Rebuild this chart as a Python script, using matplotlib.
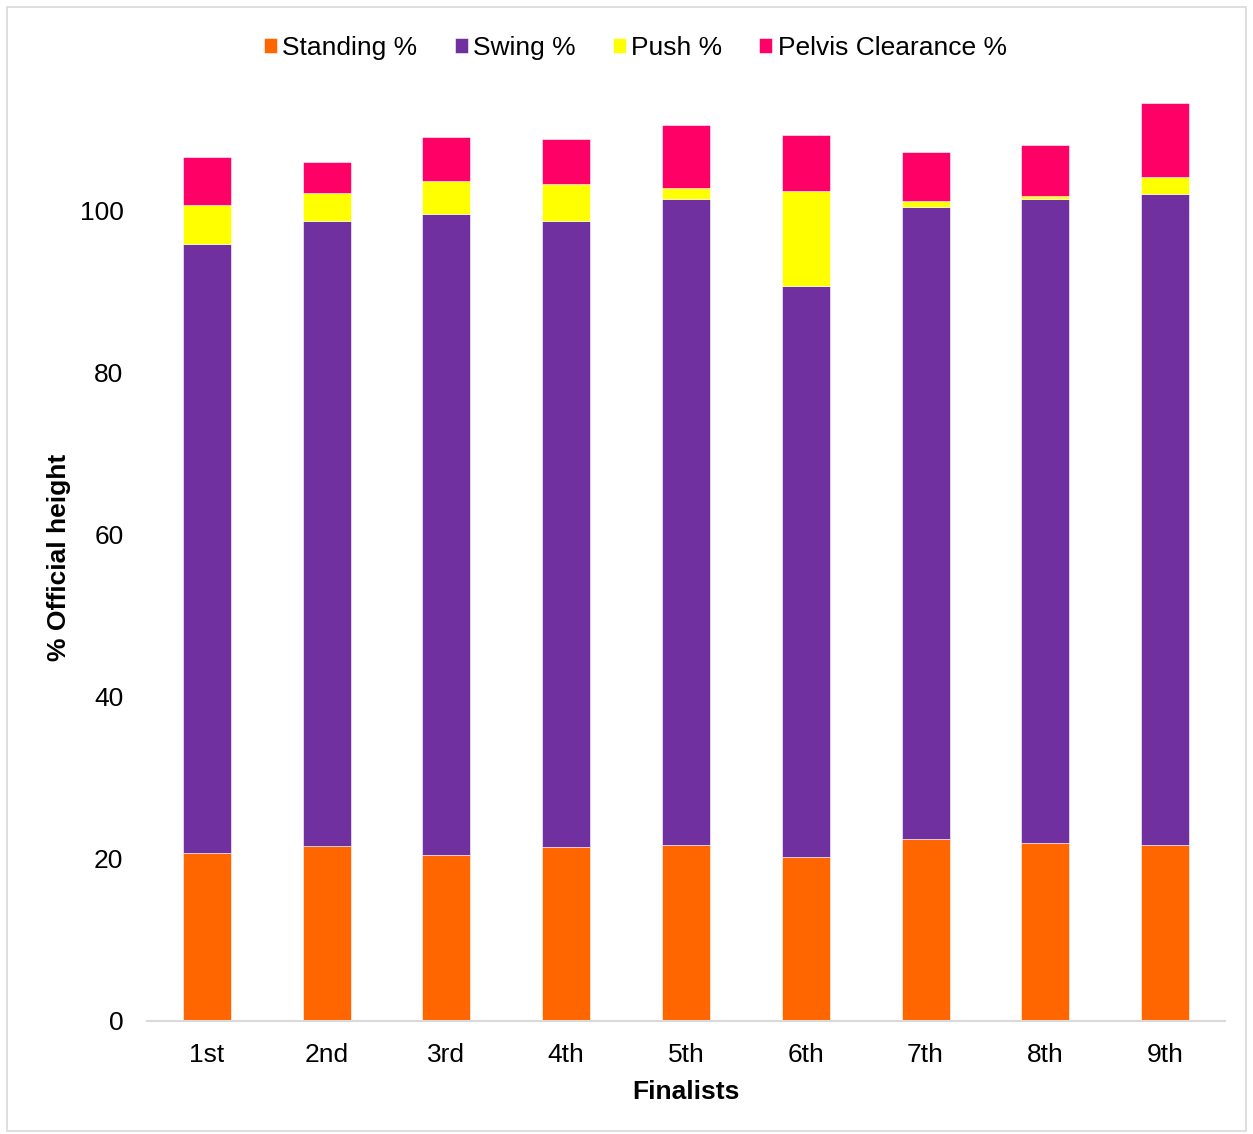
import matplotlib.pyplot as plt
from matplotlib.patches import Rectangle
import numpy as np

plt.rcParams['font.family'] = ['Liberation Sans', 'DejaVu Sans']

finalists = ["1st", "2nd", "3rd", "4th", "5th", "6th", "7th", "8th", "9th"]
standing = [20.7, 21.6, 20.5, 21.5, 21.7, 20.2, 22.5, 22.0, 21.7]
swing = [75.2, 77.2, 79.1, 77.3, 79.8, 70.5, 78.0, 79.5, 80.4]
push = [4.8, 3.4, 4.1, 4.5, 1.3, 11.8, 0.7, 0.4, 2.1]
pelvis = [6.0, 3.8, 5.4, 5.6, 7.8, 6.9, 6.1, 6.2, 9.1]

series = [
    ("Standing %", standing, "#FF6600"),
    ("Swing %", swing, "#7030A0"),
    ("Push %", push, "#FFFF00"),
    ("Pelvis Clearance %", pelvis, "#FF0066"),
]


def main():
    fig = plt.figure(figsize=(12.53, 11.34), dpi=100)
    ax = fig.add_axes([147 / 1253, 1 - 1021 / 1134, 1078 / 1253, (1021 - 89.5) / 1134])

    x = np.arange(len(finalists))
    bottom = np.zeros(len(finalists))
    for name, vals, col in series:
        ax.bar(x, vals, 0.4, bottom=bottom, color=col, label=name,
               edgecolor='white', linewidth=0.4)
        bottom += np.array(vals)

    ax.set_xlim(-0.5, len(finalists) - 0.5)
    ax.set_ylim(0, 115)
    ax.set_yticks([0, 20, 40, 60, 80, 100])
    ax.set_xticks(x)
    ax.set_xticklabels(finalists)
    ax.tick_params(axis='both', length=0, labelsize=19)
    ax.tick_params(axis='x', pad=15.5)
    ax.tick_params(axis='y', pad=17)

    for s in ['top', 'right', 'left']:
        ax.spines[s].set_visible(False)
    ax.spines['bottom'].set_color('#D9D9D9')
    ax.spines['bottom'].set_linewidth(1.5)

    ax.set_xlabel("Finalists", fontsize=19, fontweight='bold', labelpad=10)
    ax.set_ylabel("% Official height", fontsize=19, fontweight='bold')
    ax.yaxis.set_label_coords(-0.0705, 0.498)

    fig.legend(loc='center', bbox_to_anchor=(0.507, 0.958), ncol=4,
               frameon=False, fontsize=19, handlelength=0.5, handleheight=0.5,
               handletextpad=0.2, columnspacing=1.4)

    fig.patches.append(Rectangle((7 / 1253, 1 - 1131 / 1134), 1239 / 1253, 1124 / 1134,
                                 transform=fig.transFigure, fill=False,
                                 edgecolor='#D9D9D9', linewidth=1.2))

    fig.savefig("out.png", dpi=100)


if __name__ == '__main__':
    main()
